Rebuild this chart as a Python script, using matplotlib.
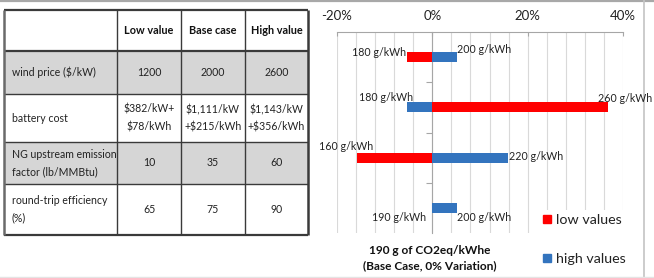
import numpy as np
import matplotlib
matplotlib.use('Agg')
import matplotlib.pyplot as plt
from matplotlib.patches import Rectangle
from matplotlib.lines import Line2D
from matplotlib.transforms import offset_copy

plt.rcParams['font.family'] = ['Lato', 'DejaVu Sans']

# ---------------- data ----------------
table_header = ['', 'Low value', 'Base case', 'High value']
row_params = ['wind price ($/kW)', 'battery cost',
              'NG upstream emission\nfactor (lb/MMBtu)',
              'round-trip efficiency\n(%)']
low_vals = ['1200', '$382/kW+\n$78/kWh', '10', '65']
base_vals = ['2000', '$1,111/kW\n+$215/kWh', '35', '75']
high_vals = ['2600', '$1,143/kW\n+$356/kWh', '60', '90']
row_shaded = [True, False, True, False]

base_emission = 190
low_case_emission = [180, 260, 160, 190]    # g/kWh (red, "low values")
high_case_emission = [200, 180, 220, 200]   # g/kWh (blue, "high values")
x_ticks = [-20, 0, 20, 40]
legend_labels = ['low values', 'high values']
xlabel_text = '190 g of CO2eq/kWhe\n(Base Case, 0% Variation)'

# ---------------- style ----------------
W, H = 654, 278
RED = '#FF0000'
BLUE = '#3374BE'
GRID = '#D9D9D9'
SHADE = '#D6D6D6'
LINE = '#3A3A3A'

fig = plt.figure(figsize=(W / 100, H / 100), dpi=100)

# background axes in pixel coordinates (table + frame)
bg = fig.add_axes([0, 0, 1, 1])
bg.set_xlim(0, W)
bg.set_ylim(H, 0)
bg.axis('off')

# screenshot frame
bg.plot([0, W], [1, 1], color='#A8A8A8', lw=1.6)
bg.plot([644, 644], [0, H], color='#C4C4C4', lw=1.2)
bg.plot([0, W], [277, 277], color='#E4E4E4', lw=1.0)

# table layout
col_x = [4, 117, 181, 245, 308]
row_y = [10, 51, 94, 142, 184, 235]
fs_tab = 7.6
fs_head = 7.8

for i, shaded in enumerate(row_shaded):
    if shaded:
        bg.add_patch(Rectangle((col_x[0], row_y[i + 1]), col_x[-1] - col_x[0],
                               row_y[i + 2] - row_y[i + 1], facecolor=SHADE,
                               edgecolor='none', zorder=1))

# horizontal lines
for j, yy in enumerate(row_y):
    lw = 1.6 if j in (0, 1, len(row_y) - 1) else 1.0
    bg.plot([col_x[0], col_x[-1]], [yy, yy], color=LINE, lw=lw, zorder=2,
            solid_capstyle='butt')
# vertical lines
for j, xx in enumerate(col_x):
    lw = 1.8 if j in (0, len(col_x) - 1) else 1.0
    col = '#6A6A6A' if j == 0 else LINE
    bg.plot([xx, xx], [row_y[0], row_y[-1]], color=col, lw=lw, zorder=2,
            solid_capstyle='butt')

# header
hy = (row_y[0] + row_y[1]) / 2
for j in range(1, 4):
    bg.text((col_x[j] + col_x[j + 1]) / 2, hy, table_header[j], ha='center',
            va='center', fontsize=fs_head, fontweight='bold', color='#111111',
            zorder=3)

# body
for i in range(4):
    cy = (row_y[i + 1] + row_y[i + 2]) / 2
    bg.text(col_x[0] + 8, cy, row_params[i], ha='left', va='center',
            fontsize=fs_tab, color='#222222', linespacing=1.68, zorder=3)
    for j, vals in enumerate([low_vals, base_vals, high_vals], start=1):
        bg.text((col_x[j] + col_x[j + 1]) / 2, cy, vals[i], ha='center',
                va='center', fontsize=fs_tab, color='#222222',
                linespacing=1.68, zorder=3)

# ---------------- tornado chart ----------------
px0, px1, py0, py1 = 337, 623, 32, 233
ax = fig.add_axes([px0 / W, 1 - py1 / H, (px1 - px0) / W, (py1 - py0) / H])
ax.patch.set_alpha(0)

low_var = [(v - base_emission) / base_emission * 100 for v in low_case_emission]
high_var = [(v - base_emission) / base_emission * 100 for v in high_case_emission]
y = np.arange(len(low_var))

ax.barh(y, low_var, height=0.2, color=RED, zorder=3)
ax.barh(y, high_var, height=0.2, color=BLUE, zorder=3)

ax.set_xlim(x_ticks[0], x_ticks[-1])
ax.set_ylim(len(y) - 0.5, -0.5)

ax.xaxis.tick_top()
ax.set_xticks(x_ticks)
ax.set_xticklabels([f'{v}%' for v in x_ticks], fontsize=9.5, color='#222222')
ax.set_xticks(np.arange(x_ticks[0], x_ticks[-1] + 1, 4), minor=True)
ax.tick_params(axis='x', which='major', direction='in', length=3, pad=7,
               color='#A6A6A6')
ax.tick_params(axis='x', which='minor', length=0)
ax.grid(which='both', axis='x', color=GRID, lw=0.8, zorder=0)

ax.set_yticks(y[:-1] + 0.5)
ax.set_yticklabels([])
ax.tick_params(axis='y', which='major', direction='out', length=4,
               color='#A6A6A6')
for s in ['right', 'bottom']:
    ax.spines[s].set_visible(False)
ax.spines['top'].set_color('#A6A6A6')
ax.spines['left'].set_position(('data', 0))
ax.spines['left'].set_color('#A6A6A6')
ax.spines['left'].set_zorder(2)

# data labels (offsets in pixels: dx right, dy down)
low_label_offsets = [(-1, -5), (-10, -9), (16, -11), (-6, 10)]
high_label_offsets = [(0, -8), (6, -10), (1, -1), (0, 10)]
for vals, var, offs in [(low_case_emission, low_var, low_label_offsets),
                        (high_case_emission, high_var, high_label_offsets)]:
    for i, (v, p, (dx, dy)) in enumerate(zip(vals, var, offs)):
        tr = offset_copy(ax.transData, fig=fig, x=dx, y=-dy, units='dots')
        ax.text(p, i, f'{v} g/kWh', transform=tr,
                ha='left' if p > 0 else 'right', va='center',
                fontsize=7.7, color='#222222', zorder=4)

# legend
handles = [Line2D([], [], marker='s', linestyle='none', markersize=5.5,
                  markerfacecolor=c, markeredgecolor=c) for c in (RED, BLUE)]
leg = ax.legend(handles, legend_labels, loc='upper left',
                bbox_to_anchor=(538 / W, 1 - 210 / H),
                bbox_transform=fig.transFigure, fontsize=10.3,
                frameon=True, framealpha=1, edgecolor='none',
                handlelength=0.6, handletextpad=0.35, labelspacing=1.85,
                borderpad=0.3, borderaxespad=0)
leg.get_frame().set_facecolor('white')
for t in leg.get_texts():
    t.set_color('#222222')

# axis title (bottom)
bg.text(430, 258, xlabel_text, ha='center', va='center', fontsize=8.6,
        fontweight='bold', color='#111111', linespacing=1.5, zorder=5)

fig.savefig('out.png', dpi=100)
